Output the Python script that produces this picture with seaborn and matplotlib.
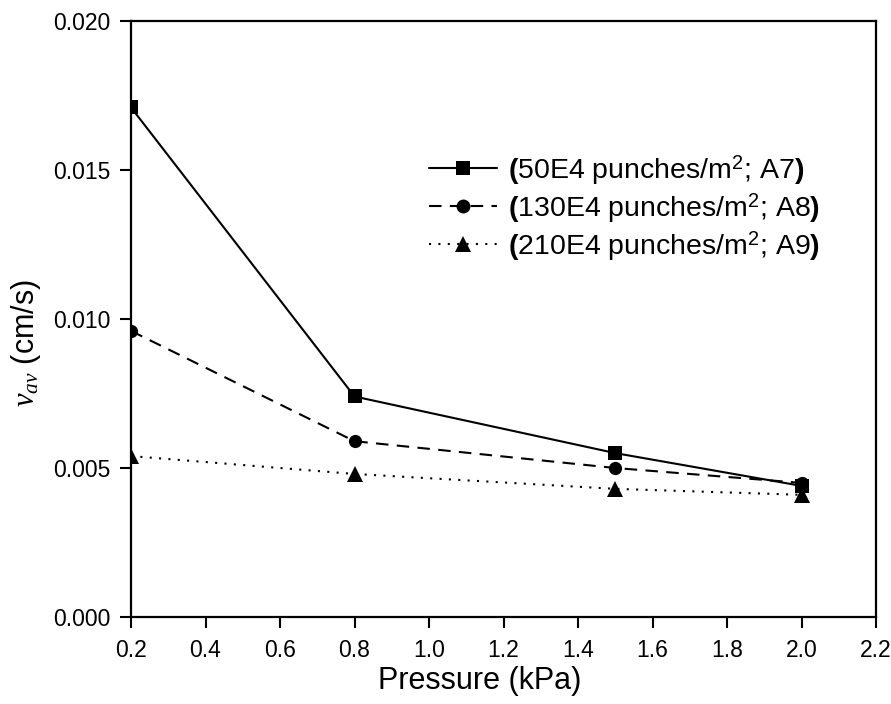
import matplotlib
matplotlib.use("Agg")
import matplotlib.pyplot as plt
import seaborn as sns
import pandas as pd

pressure = [0.2, 0.8, 1.5, 2.0]
v_a7 = [0.0171, 0.0074, 0.0055, 0.0044]
v_a8 = [0.0096, 0.0059, 0.0050, 0.0045]
v_a9 = [0.0054, 0.0048, 0.0043, 0.0041]
labels = [r"$\mathbf{(}$50E4 punches/m$^2$; A7$\mathbf{)}$",
          r"$\mathbf{(}$130E4 punches/m$^2$; A8$\mathbf{)}$",
          r"$\mathbf{(}$210E4 punches/m$^2$; A9$\mathbf{)}$"]
x_ticks = [0.2, 0.4, 0.6, 0.8, 1.0, 1.2, 1.4, 1.6, 1.8, 2.0, 2.2]
y_ticks = [0.000, 0.005, 0.010, 0.015, 0.020]

sns.set_theme(style="ticks")
plt.rcParams['font.family'] = ['Liberation Sans', 'DejaVu Sans']
plt.rcParams['mathtext.fontset'] = 'custom'
plt.rcParams['mathtext.rm'] = 'Liberation Sans'
plt.rcParams['mathtext.bf'] = 'Liberation Sans:bold'
plt.rcParams['mathtext.it'] = 'Liberation Serif:italic'
plt.rcParams['axes.labelcolor'] = 'black'
plt.rcParams['text.color'] = 'black'

rows = []
for lab, vals in zip(labels, [v_a7, v_a8, v_a9]):
    for p, v in zip(pressure, vals):
        rows.append({"Pressure": p, "v": v, "series": lab})
df = pd.DataFrame(rows)

fig = plt.figure(figsize=(8.91, 7.04), dpi=100)
ax = fig.add_axes([131/891, 1-617/704, (876-131)/891, (617-21)/704])

sns.lineplot(data=df, x="Pressure", y="v", style="series", hue="series",
             palette=["black"]*3, style_order=labels, hue_order=labels,
             markers={labels[0]: "s", labels[1]: "o", labels[2]: "^"},
             dashes={labels[0]: "", labels[1]: (6, 4), labels[2]: (1, 3.5)},
             markersize=9.5, linewidth=1.5, markeredgewidth=0, ax=ax, legend=True)
ax.lines[2].set_markersize(11.5)

ax.set_xlim(0.2, 2.2)
ax.set_ylim(0.0, 0.020)
ax.set_xticks(x_ticks)
ax.set_xticklabels([f"{t:.1f}" for t in x_ticks], fontsize=16.5)
ax.set_yticks(y_ticks)
ax.set_yticklabels([f"{t:.3f}" for t in y_ticks], fontsize=16.5)
ax.tick_params(direction="out", length=8, width=1.5, colors="black", labelcolor="black")
ax.tick_params(axis="x", pad=8)
ax.tick_params(axis="y", pad=7)
for s in ax.spines.values():
    s.set_linewidth(1.6)
    s.set_color("black")
    s.set_visible(True)

ax.set_xlabel("Pressure (kPa)", fontsize=22, color="black")
ax.set_ylabel(r"$v_{av}$ (cm/s)", fontsize=22, color="black")
ax.xaxis.set_label_coords(0.468, -0.082)
ax.yaxis.set_label_coords(-0.118, 0.46)

leg = ax.legend(loc="upper left", bbox_to_anchor=(0.366, 0.822), frameon=False,
                fontsize=20.5, handlelength=2.37, handletextpad=0.38, labelspacing=0.15)
for i, h in enumerate(leg.legend_handles):
    h.set_color("black")
    h.set_markersize(11.5 if i == 2 else 10)

fig.savefig("out.png", dpi=100)
